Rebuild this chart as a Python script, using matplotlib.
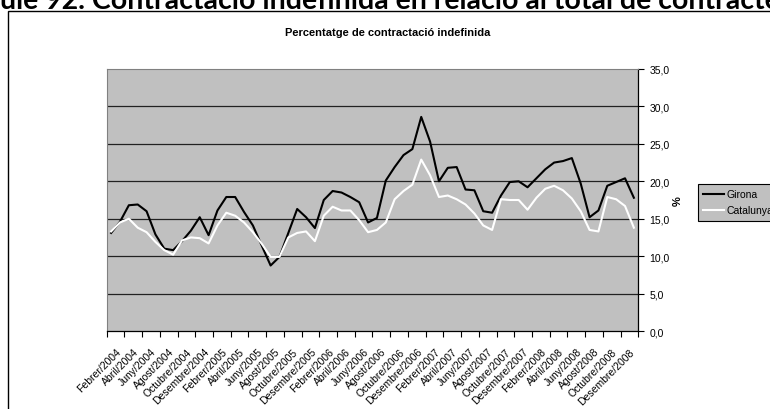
import numpy as np
import matplotlib
matplotlib.use("Agg")
import matplotlib.pyplot as plt
from matplotlib.patches import Rectangle

# ---- data (monthly) ----
girona = [13.1, 14.6, 16.8, 16.9, 16.0, 12.9, 11.0, 10.8, 12.0, 13.4,
          15.2, 12.8, 16.1, 17.9, 17.9, 15.9, 14.1, 11.4, 8.75, 9.9,
          13.1, 16.3, 15.2, 13.75, 17.5, 18.7, 18.5, 17.9, 17.2, 14.5,
          15.1, 20.1, 21.9, 23.5, 24.3, 28.6, 25.3, 20.0, 21.8, 21.9,
          18.9, 18.8, 16.0, 15.8, 18.1, 19.9, 20.0, 19.2, 20.4, 21.6,
          22.5, 22.7, 23.1, 19.7, 15.2, 16.1, 19.4, 19.9, 20.4, 17.8]
catalunya = [13.3, 14.5, 15.0, 13.8, 13.2, 11.9, 10.8, 10.2, 12.1, 12.5,
             12.4, 11.7, 14.1, 15.8, 15.4, 14.5, 13.2, 11.65, 9.9, 9.9,
             12.5, 13.1, 13.3, 12.0, 15.4, 16.6, 16.1, 16.1, 14.8, 13.2,
             13.5, 14.5, 17.6, 18.7, 19.55, 22.9, 20.8, 17.9, 18.1, 17.6,
             16.9, 15.7, 14.1, 13.5, 17.6, 17.5, 17.5, 16.2, 17.8, 19.0,
             19.4, 18.8, 17.7, 16.0, 13.5, 13.3, 17.9, 17.6, 16.7, 13.8]

months = ['Febrer', 'Abril', 'Juny', 'Agost', 'Octubre', 'Desembre']
years = [2004, 2005, 2006, 2007, 2008]
tick_labels = [f'{m}/{y}' for y in years for m in months]

y_ticks = [0, 5, 10, 15, 20, 25, 30, 35]

W, H = 770, 410
fig = plt.figure(figsize=(W / 100, H / 100), dpi=100)
plt.rcParams['font.family'] = ['Liberation Sans', 'DejaVu Sans']

# big page title, cut at the top edge
fig.text(0, 1 - 9 / H, 'ule 92. Contractació indefinida en relació al total de contractes',
         fontsize=20.5, fontweight='bold', family=['Lato', 'DejaVu Sans'],
         ha='left', va='baseline')

# chart frame
fig.patches.append(Rectangle((8 / W, -0.1), 1.2, 1.1 - 12 / H, transform=fig.transFigure,
                             fill=False, edgecolor='black', linewidth=1.0))

fig.text(388 / W, 1 - 33 / H, 'Percentatge de contractació indefinida',
         fontsize=8, fontweight='bold', ha='center', va='center')

left, right, top, bottom = 106.7, 638.3, 70, 332
ax = fig.add_axes([left / W, 1 - bottom / H, (right - left) / W, (bottom - top) / H])
ax.set_facecolor('#C0C0C0')

x = np.arange(len(girona))
ax.plot(x, girona, color='black', linewidth=1.5, label='Girona')
ax.plot(x, catalunya, color='white', linewidth=1.5, label='Catalunya')

ax.set_xlim(-0.5, len(girona) - 0.5)
ax.set_ylim(0, 35)

# y axis on the right
ax.yaxis.tick_right()
ax.yaxis.set_label_position('right')
ax.set_yticks(y_ticks)
ax.set_yticklabels([f'{v:.1f}'.replace('.', ',') for v in y_ticks], fontsize=7.5)
ax.tick_params(axis='y', direction='out', length=4, width=0.8, pad=4)
ax.set_ylabel('%', fontsize=8, fontweight='bold', labelpad=2, rotation=90)
for v in y_ticks[1:-1]:
    ax.axhline(v, color='#222222', linewidth=0.9, zorder=1)

# x axis: tick marks every two months, labels between them
ax.set_xticks(np.arange(-0.5, len(girona), 2))
ax.set_xticklabels([])
ax.set_xticks(np.arange(0.5, len(girona), 2), minor=True)
ax.set_xticklabels(tick_labels, minor=True, rotation=45, ha='right', va='top',
                   rotation_mode='anchor', fontsize=7.5)
ax.tick_params(axis='x', which='major', direction='out', length=4, width=0.8)
ax.tick_params(axis='x', which='minor', length=0, pad=11)

for s in ['left', 'top']:
    ax.spines[s].set_color('#808080')
for s in ['right', 'bottom']:
    ax.spines[s].set_color('black')
    ax.spines[s].set_linewidth(0.9)

leg = ax.legend(loc='upper left', bbox_to_anchor=(697.7 / W, 1 - 185 / H),
                bbox_transform=fig.transFigure, fontsize=7.5, frameon=True,
                fancybox=False, edgecolor='black', facecolor='#C0C0C0', framealpha=1,
                borderpad=0.5, handlelength=2.0, handletextpad=0.3, labelspacing=0.6,
                borderaxespad=0)
leg.get_frame().set_linewidth(0.8)

fig.savefig('out.png', dpi=100)
